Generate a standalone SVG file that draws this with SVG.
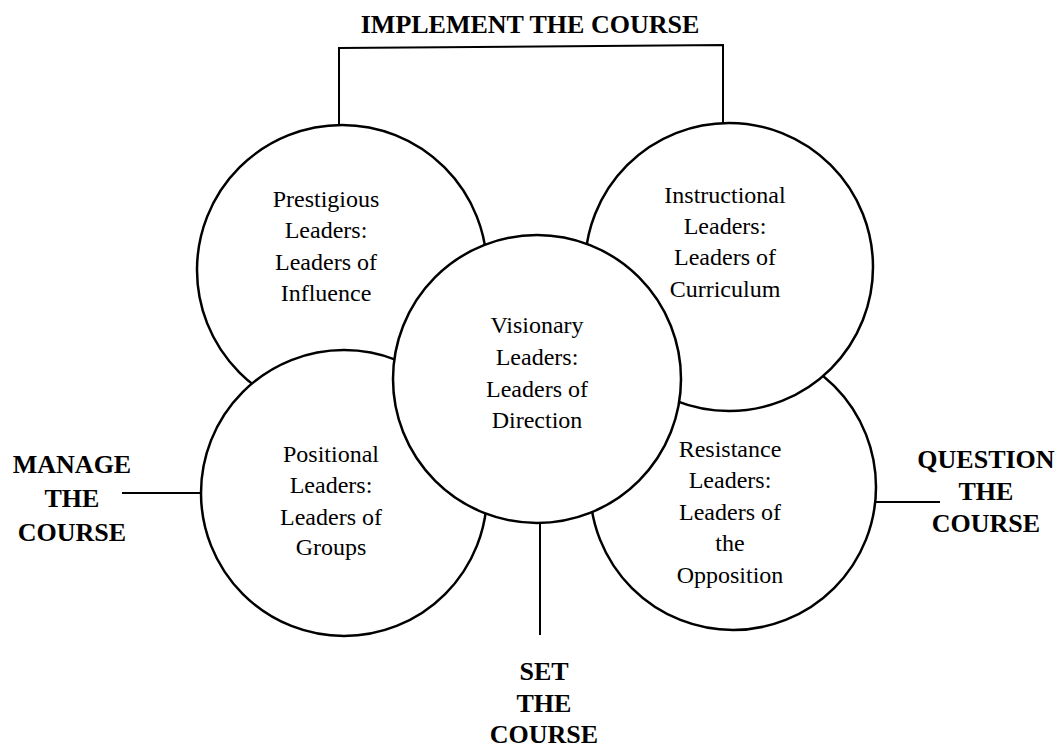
<svg xmlns="http://www.w3.org/2000/svg" width="1059" height="749" viewBox="0 0 1059 749">
  <style>
    .ring { fill: #fff; stroke: #000; stroke-width: 2.5; }
    .wire { fill: none; stroke: #000; stroke-width: 2; }
    .body { font-family: "Liberation Serif", "Times New Roman", serif; font-size: 24px; fill: #000; text-anchor: middle; }
    .tag { font-family: "Liberation Serif", "Times New Roman", serif; font-size: 26px; font-weight: bold; fill: #000; text-anchor: middle; }
  </style>
  <rect width="1059" height="749" fill="#fff"/>

  <!-- connectors to the course labels -->
  <g id="connectors">
    <polyline class="wire" points="339,127 339,48 723,45 723,123"/>
    <line class="wire" x1="122" y1="493" x2="202" y2="493"/>
    <line class="wire" x1="874" y1="502" x2="940" y2="502"/>
    <line class="wire" x1="540" y1="522" x2="540" y2="635"/>
  </g>

  <!-- circles, back to front -->
  <g id="prestigious">
    <circle class="ring" cx="342" cy="270" r="145"/>
    <text class="body"><tspan x="326" y="207">Prestigious</tspan><tspan x="326" y="238">Leaders:</tspan><tspan x="326" y="270">Leaders of</tspan><tspan x="326" y="301">Influence</tspan></text>
  </g>
  <g id="positional">
    <circle class="ring" cx="344" cy="493" r="143"/>
    <text class="body"><tspan x="331" y="462">Positional</tspan><tspan x="331" y="493">Leaders:</tspan><tspan x="331" y="525">Leaders of</tspan><tspan x="331" y="555">Groups</tspan></text>
  </g>
  <g id="resistance">
    <circle class="ring" cx="733" cy="487" r="143"/>
    <text class="body"><tspan x="730" y="457">Resistance</tspan><tspan x="730" y="488">Leaders:</tspan><tspan x="730" y="520">Leaders of</tspan><tspan x="730" y="551">the</tspan><tspan x="730" y="583">Opposition</tspan></text>
  </g>
  <g id="instructional">
    <circle class="ring" cx="729" cy="267" r="144"/>
    <text class="body"><tspan x="725" y="203">Instructional</tspan><tspan x="725" y="234">Leaders:</tspan><tspan x="725" y="265">Leaders of</tspan><tspan x="725" y="297">Curriculum</tspan></text>
  </g>
  <g id="visionary">
    <circle class="ring" cx="537" cy="379" r="144"/>
    <text class="body"><tspan x="537" y="333">Visionary</tspan><tspan x="537" y="365">Leaders:</tspan><tspan x="537" y="397">Leaders of</tspan><tspan x="537" y="428">Direction</tspan></text>
  </g>

  <!-- course labels -->
  <g id="implement">
    <text class="tag" x="530" y="33">IMPLEMENT THE COURSE</text>
  </g>
  <g id="manage">
    <text class="tag"><tspan x="72" y="473">MANAGE</tspan><tspan x="72" y="507">THE</tspan><tspan x="72" y="541">COURSE</tspan></text>
  </g>
  <g id="question">
    <text class="tag"><tspan x="986" y="468">QUESTION</tspan><tspan x="986" y="500">THE</tspan><tspan x="986" y="532">COURSE</tspan></text>
  </g>
  <g id="set">
    <text class="tag"><tspan x="544" y="680">SET</tspan><tspan x="544" y="712">THE</tspan><tspan x="544" y="743">COURSE</tspan></text>
  </g>
</svg>
